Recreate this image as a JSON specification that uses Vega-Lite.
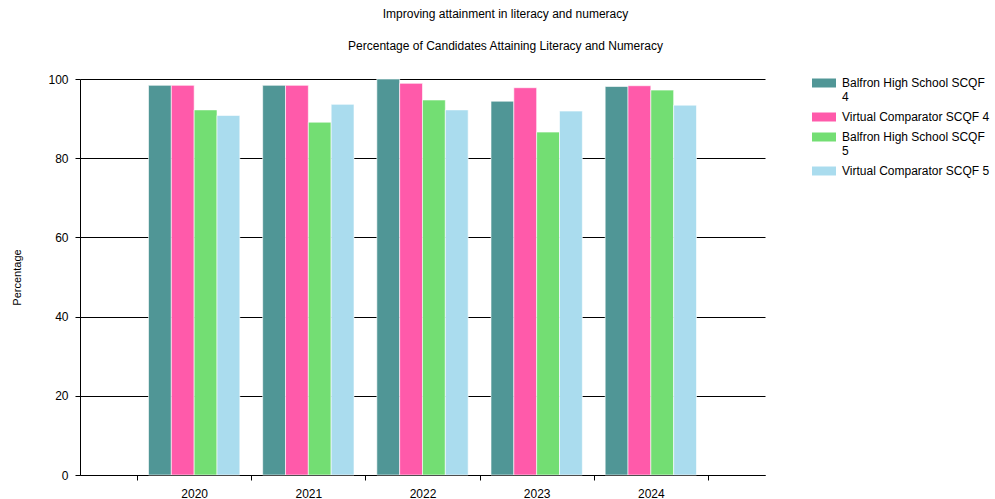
{
  "$schema": "https://vega.github.io/schema/vega-lite/v6.json",
  "width": 685,
  "height": 396,
  "autosize": {"type": "none"},
  "padding": {"left": 80, "top": 79, "right": 230, "bottom": 24},
  "background": "white",
  "view": {"stroke": null},
  "title": {
    "text": "Improving attainment in literacy and numeracy",
    "subtitle": "Percentage of Candidates Attaining Literacy and Numeracy",
    "anchor": "middle",
    "dx": 83,
    "offset": 18,
    "font": "Liberation Sans",
    "fontSize": 12,
    "fontWeight": "normal",
    "color": "black",
    "subtitleFont": "Liberation Sans",
    "subtitleFontSize": 12,
    "subtitleColor": "black",
    "subtitlePadding": 20
  },
  "data": {
    "values": [
      {"year": "2020", "series": "Balfron High School SCQF 4", "pct": 98.4},
      {"year": "2020", "series": "Virtual Comparator SCQF 4", "pct": 98.4},
      {"year": "2020", "series": "Balfron High School SCQF 5", "pct": 92.2},
      {"year": "2020", "series": "Virtual Comparator SCQF 5", "pct": 90.8},
      {"year": "2021", "series": "Balfron High School SCQF 4", "pct": 98.4},
      {"year": "2021", "series": "Virtual Comparator SCQF 4", "pct": 98.4},
      {"year": "2021", "series": "Balfron High School SCQF 5", "pct": 89.1},
      {"year": "2021", "series": "Virtual Comparator SCQF 5", "pct": 93.6},
      {"year": "2022", "series": "Balfron High School SCQF 4", "pct": 100},
      {"year": "2022", "series": "Virtual Comparator SCQF 4", "pct": 98.9},
      {"year": "2022", "series": "Balfron High School SCQF 5", "pct": 94.7},
      {"year": "2022", "series": "Virtual Comparator SCQF 5", "pct": 92.2},
      {"year": "2023", "series": "Balfron High School SCQF 4", "pct": 94.4},
      {"year": "2023", "series": "Virtual Comparator SCQF 4", "pct": 97.8},
      {"year": "2023", "series": "Balfron High School SCQF 5", "pct": 86.6},
      {"year": "2023", "series": "Virtual Comparator SCQF 5", "pct": 91.9},
      {"year": "2024", "series": "Balfron High School SCQF 4", "pct": 98.1},
      {"year": "2024", "series": "Virtual Comparator SCQF 4", "pct": 98.3},
      {"year": "2024", "series": "Balfron High School SCQF 5", "pct": 97.2},
      {"year": "2024", "series": "Virtual Comparator SCQF 5", "pct": 93.4}
    ]
  },
  "mark": {"type": "bar", "stroke": "white", "strokeOpacity": 0.6, "strokeWidth": 1},
  "encoding": {
    "x": {
      "field": "year",
      "type": "nominal",
      "scale": {"paddingInner": 0, "paddingOuter": 0.5},
      "axis": {
        "title": null,
        "labelAngle": 0,
        "tickBand": "extent",
        "domainColor": "black",
        "tickColor": "black",
        "tickSize": 5,
        "labelColor": "black",
        "labelFont": "Liberation Sans",
        "labelFontSize": 12,
        "labelPadding": 8,
        "grid": false
      }
    },
    "xOffset": {
      "field": "series",
      "sort": ["Balfron High School SCQF 4", "Virtual Comparator SCQF 4", "Balfron High School SCQF 5", "Virtual Comparator SCQF 5"],
      "scale": {"paddingInner": 0, "paddingOuter": 0.5}
    },
    "y": {
      "field": "pct",
      "type": "quantitative",
      "scale": {"domain": [0, 100], "nice": false},
      "axis": {
        "title": "Percentage",
        "values": [0, 20, 40, 60, 80, 100],
        "grid": true,
        "gridColor": "black",
        "gridOpacity": 1,
        "domainColor": "black",
        "tickColor": "black",
        "tickSize": 5,
        "labelColor": "black",
        "labelFont": "Liberation Sans",
        "labelFontSize": 12,
        "labelPadding": 7,
        "titleFont": "Liberation Sans",
        "titleFontSize": 11,
        "titleFontWeight": "normal",
        "titleColor": "black",
        "titlePadding": 25
      }
    },
    "color": {
      "field": "series",
      "type": "nominal",
      "sort": ["Balfron High School SCQF 4", "Virtual Comparator SCQF 4", "Balfron High School SCQF 5", "Virtual Comparator SCQF 5"],
      "scale": {
        "domain": ["Balfron High School SCQF 4", "Virtual Comparator SCQF 4", "Balfron High School SCQF 5", "Virtual Comparator SCQF 5"],
        "range": ["#509696", "#FF5AAA", "#73DE73", "#AADCEE"]
      },
      "legend": {
        "title": null,
        "orient": "none",
        "legendX": 732,
        "legendY": -8,
        "symbolType": "M-1,-0.375H1V0.375H-1Z",
        "symbolSize": 576,
        "symbolStrokeWidth": 0,
        "symbolOpacity": 1,
        "labelFont": "Liberation Sans",
        "labelFontSize": 12,
        "labelColor": "black",
        "labelLimit": 200,
        "labelOffset": 6,
        "rowPadding": 2,
        "labelExpr": "indexof(datum.label, 'Balfron') == 0 ? ['Balfron High School SCQF', slice(datum.label, -1)] : datum.label"
      }
    }
  }
}
